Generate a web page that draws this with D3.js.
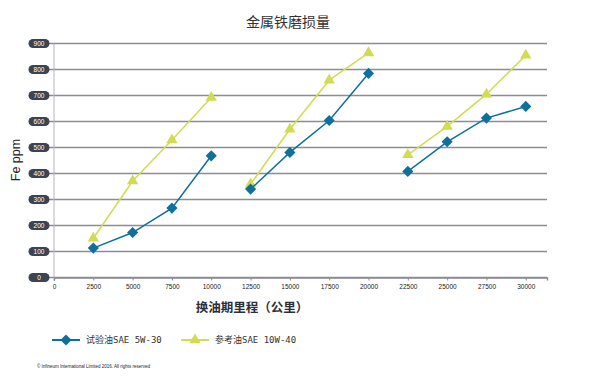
<!DOCTYPE html>
<html>
<head>
<meta charset="utf-8">
<script src="https://cdn.jsdelivr.net/npm/d3@7/dist/d3.min.js"></script>
<style>
  body { margin: 0; background: #fff; }
  svg { display: block; }
</style>
</head>
<body>
<div id="chart"></div>
<script>
// distances (km), three test runs of four points each
let mileage = [2500, 5000, 7500, 10000, 12500, 15000, 17500, 20000, 22500, 25000, 27500, 30000]
let runIndex = [0, 0, 0, 0, 1, 1, 1, 1, 2, 2, 2, 2]
let testOil = [113, 173, 267, 468, 340, 481, 604, 785, 408, 522, 613, 658]
let refOil = [151, 371, 529, 692, 359, 570, 759, 864, 472, 581, 705, 855]
let yTicks = [0, 100, 200, 300, 400, 500, 600, 700, 800, 900]
let xTicks = [0, 2500, 5000, 7500, 10000, 12500, 15000, 17500, 20000, 22500, 25000, 27500, 30000]
let seriesNames = ["试验油SAE 5W-30", "参考油SAE 10W-40"]

let width = 595
let height = 389
let margin = { left: 54, right: 48, top: 43.5, bottom: 111.5 }

let blue = "#10709c"
let lime = "#d2dc52"

let svg = d3.select("#chart")
    .append("svg")
    .attr("width", width)
    .attr("height", height)

let x = d3.scaleLinear().domain([0, 31350]).range([margin.left, width - margin.right])
let y = d3.scaleLinear().domain([0, 900]).range([height - margin.bottom, margin.top])

// title
svg.append("text")
    .attr("x", 288)
    .attr("y", 27)
    .attr("text-anchor", "middle")
    .style("font-family", "'Noto Sans CJK SC', sans-serif")
    .style("font-size", "14px")
    .style("fill", "#333")
    .text("金属铁磨损量")

// gridlines
svg.append("g")
    .selectAll("line")
    .data(yTicks)
    .join("line")
    .attr("x1", 46)
    .attr("x2", x(31350))
    .attr("y1", d => y(d))
    .attr("y2", d => y(d))
    .attr("stroke", "#8c8c92")
    .attr("stroke-width", 1.4)

// y axis line
svg.append("line")
    .attr("x1", x(0)).attr("x2", x(0))
    .attr("y1", y(900)).attr("y2", y(0) + 3)
    .attr("stroke", "#b4b4ba")
    .attr("stroke-width", 1)

// x axis
let xAxis = svg.append("g")
    .attr("transform", `translate(0,${y(0)})`)
    .call(d3.axisBottom(x).tickValues(xTicks).tickSize(3).tickFormat(d3.format("d")))
xAxis.select(".domain").attr("stroke", "#8c8c92").attr("stroke-width", 1.4)
xAxis.selectAll(".tick line").attr("stroke", "#8c8c92")
xAxis.selectAll(".tick text")
    .attr("dy", "0.9em")
    .style("font-family", "'Liberation Sans', Arial, sans-serif")
    .style("font-size", "6.5px")
    .style("fill", "#222")

// y tick pills
let yLabels = svg.append("g")
    .selectAll("g")
    .data(yTicks)
    .join("g")
    .attr("transform", d => `translate(39,${y(d)})`)
yLabels.append("rect")
    .attr("x", -10.5).attr("y", -4.5)
    .attr("width", 21).attr("height", 9)
    .attr("rx", 4.5)
    .attr("fill", "#3c4451")
yLabels.append("text")
    .attr("text-anchor", "middle")
    .attr("dy", "0.35em")
    .style("font-family", "'Liberation Sans', Arial, sans-serif")
    .style("font-size", "6.5px")
    .style("fill", "#fff")
    .text(d => d)

// axis titles
svg.append("text")
    .attr("transform", "translate(20,160) rotate(-90)")
    .attr("text-anchor", "middle")
    .style("font-family", "'Liberation Sans', Arial, sans-serif")
    .style("font-size", "12.5px")
    .style("fill", "#222")
    .text("Fe ppm")

svg.append("text")
    .attr("x", 252)
    .attr("y", 312)
    .attr("text-anchor", "middle")
    .style("font-family", "'Noto Sans CJK SC', sans-serif")
    .style("font-size", "12.5px")
    .style("font-weight", "bold")
    .style("fill", "#2c2f3a")
    .text("换油期里程（公里）")

// series lines, split per run
let line = d3.line().x(d => x(d.x)).y(d => y(d.y))

function drawSeries(values, color, symbol, size, rot) {
    let pts = mileage.map((m, i) => ({ x: m, y: values[i], run: runIndex[i] }))
    let runs = d3.groups(pts, d => d.run).map(g => g[1])

    let g = svg.append("g")
    g.selectAll("path.run")
        .data(runs)
        .join("path")
        .attr("class", "run")
        .attr("d", line)
        .attr("fill", "none")
        .attr("stroke", color)
        .attr("stroke-width", 1.5)

    g.selectAll("path.mark")
        .data(pts)
        .join("path")
        .attr("class", "mark")
        .attr("transform", d => `translate(${x(d.x)},${y(d.y)}) rotate(${rot})`)
        .attr("d", d3.symbol().type(symbol).size(size))
        .attr("fill", color)
}

drawSeries(refOil, lime, d3.symbolTriangle, 56, 0)
drawSeries(testOil, blue, d3.symbolSquare, 62, 45)

// legend
let legendItems = [
    { name: seriesNames[0], color: blue, symbol: d3.symbolSquare, size: 62, rot: 45, x: 52 },
    { name: seriesNames[1], color: lime, symbol: d3.symbolTriangle, size: 56, rot: 0, x: 181 }
]
let legend = svg.append("g")
    .selectAll("g")
    .data(legendItems)
    .join("g")
    .attr("transform", d => `translate(${d.x},340)`)
legend.append("line")
    .attr("x1", 0).attr("x2", 28)
    .attr("stroke", d => d.color)
    .attr("stroke-width", 2)
legend.append("path")
    .attr("transform", d => `translate(14,0) rotate(${d.rot})`)
    .attr("d", d => d3.symbol().type(d.symbol).size(d.size)())
    .attr("fill", d => d.color)
legend.append("text")
    .attr("x", 34)
    .attr("dy", "0.38em")
    .style("font-family", "'DejaVu Sans Mono', 'Noto Sans CJK SC', monospace")
    .style("font-size", "9px")
    .style("fill", "#333")
    .text(d => d.name)

// footer
svg.append("text")
    .attr("x", 37)
    .attr("y", 368)
    .style("font-family", "'Liberation Sans', Arial, sans-serif")
    .style("font-size", "4.5px")
    .style("fill", "#222")
    .text("© Infineum International Limited 2016. All rights reserved")
</script>
</body>
</html>
